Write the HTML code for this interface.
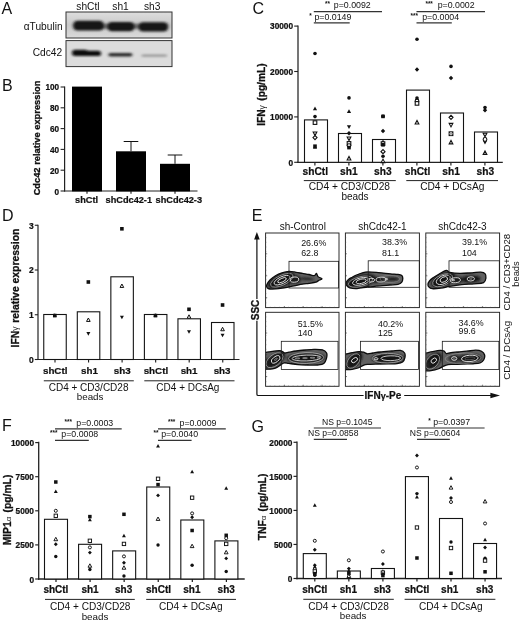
<!DOCTYPE html>
<html lang="en"><head><meta charset="utf-8"><title>Figure</title>
<style>html,body{margin:0;padding:0;background:#fff}svg{display:block}text{font-family:"Liberation Sans", Arial, sans-serif;fill:#111}</style></head><body>
<svg width="520" height="622" viewBox="0 0 520 622">
<defs><filter id="b1" x="-20%" y="-60%" width="140%" height="220%"><feGaussianBlur stdDeviation="1.5 1.25"/></filter><filter id="b2" x="-20%" y="-80%" width="140%" height="260%"><feGaussianBlur stdDeviation="1.4 0.95"/></filter><filter id="bc" x="-10%" y="-20%" width="120%" height="140%"><feGaussianBlur stdDeviation="0.35"/></filter><filter id="bcore" x="-30%" y="-60%" width="160%" height="220%"><feGaussianBlur stdDeviation="0.9"/></filter><filter id="soft" x="-5%" y="-5%" width="110%" height="110%"><feGaussianBlur stdDeviation="0.3"/></filter></defs>
<rect x="0" y="0" width="520" height="622" fill="#fff"/>
<g id="panelA">
<text x="1.5" y="14.2" font-size="16" text-anchor="start">A</text>
<text x="76.3" y="9.6" font-size="10.2" text-anchor="start">shCtl</text>
<text x="112.3" y="9.6" font-size="10.2" text-anchor="start">sh1</text>
<text x="144" y="9.6" font-size="10.2" text-anchor="start">sh3</text>
<text x="62.6" y="30" font-size="10.2" text-anchor="end">&#945;Tubulin</text>
<text x="62.2" y="55.6" font-size="10.2" text-anchor="end">Cdc42</text>
<linearGradient id="gA" x1="0" y1="0" x2="0" y2="1"><stop offset="0" stop-color="#dedede"/><stop offset="0.5" stop-color="#c9c9c9"/><stop offset="1" stop-color="#dadada"/></linearGradient>
<rect x="66" y="12" width="106" height="26" fill="url(#gA)" stroke="#333" stroke-width="1"/>
<rect x="66" y="40.6" width="106" height="26" fill="#dcdcdc" stroke="#333" stroke-width="1"/>
<g filter="url(#b1)">
<rect x="74" y="23.6" width="94" height="5.4" fill="#333" opacity="0.6"/>
<rect x="73" y="20.8" width="31" height="9.8" rx="4.5" fill="#141414"/>
<rect x="107.2" y="22" width="27.4" height="9.2" rx="4.5" fill="#161616"/>
<rect x="138.4" y="22.2" width="29.8" height="9.4" rx="4.5" fill="#161616"/>
</g>
<g filter="url(#b2)">
<rect x="72" y="49.8" width="16" height="6.2" rx="3" fill="#080808"/>
<rect x="74" y="50.8" width="27" height="5.2" rx="2.6" fill="#0a0a0a"/>
<rect x="108.4" y="53" width="24" height="3.6" rx="1.8" fill="#2c2c2c"/>
<rect x="141.5" y="54.6" width="25.5" height="2.2" rx="1.1" fill="#8a8a8a" opacity="0.85"/>
</g>
</g>
<g id="panelB">
<text x="2" y="91.2" font-size="16" text-anchor="start">B</text>
<line x1="64.6" y1="86.4" x2="64.6" y2="191.6" stroke="#222" stroke-width="1.2" stroke-linecap="butt"/>
<line x1="60.599999999999994" y1="191.0" x2="64.6" y2="191.0" stroke="#222" stroke-width="1.08" stroke-linecap="butt"/>
<text x="59.1" y="194.85" font-size="8.2" font-weight="bold" stroke="#111" stroke-width="0.22" text-anchor="end">0</text>
<line x1="60.599999999999994" y1="170.2" x2="64.6" y2="170.2" stroke="#222" stroke-width="1.08" stroke-linecap="butt"/>
<text x="59.1" y="173.5" font-size="8.2" font-weight="bold" stroke="#111" stroke-width="0.22" text-anchor="end">20</text>
<line x1="60.599999999999994" y1="149.4" x2="64.6" y2="149.4" stroke="#222" stroke-width="1.08" stroke-linecap="butt"/>
<text x="59.1" y="152.7" font-size="8.2" font-weight="bold" stroke="#111" stroke-width="0.22" text-anchor="end">40</text>
<line x1="60.599999999999994" y1="128.6" x2="64.6" y2="128.6" stroke="#222" stroke-width="1.08" stroke-linecap="butt"/>
<text x="59.1" y="131.9" font-size="8.2" font-weight="bold" stroke="#111" stroke-width="0.22" text-anchor="end">60</text>
<line x1="60.599999999999994" y1="107.8" x2="64.6" y2="107.8" stroke="#222" stroke-width="1.08" stroke-linecap="butt"/>
<text x="59.1" y="111.1" font-size="8.2" font-weight="bold" stroke="#111" stroke-width="0.22" text-anchor="end">80</text>
<line x1="60.599999999999994" y1="87.0" x2="64.6" y2="87.0" stroke="#222" stroke-width="1.08" stroke-linecap="butt"/>
<text x="59.1" y="90.3" font-size="8.2" font-weight="bold" stroke="#111" stroke-width="0.22" text-anchor="end">100</text>
<line x1="64" y1="191" x2="197.5" y2="191" stroke="#222" stroke-width="1.2" stroke-linecap="butt"/>
<line x1="87" y1="191" x2="87" y2="193.8" stroke="#222" stroke-width="1.14" stroke-linecap="butt"/>
<line x1="131" y1="191" x2="131" y2="193.8" stroke="#222" stroke-width="1.14" stroke-linecap="butt"/>
<line x1="175" y1="191" x2="175" y2="193.8" stroke="#222" stroke-width="1.14" stroke-linecap="butt"/>
<rect x="72" y="86.6" width="30" height="104.80" fill="#000"/>
<rect x="116" y="151.3" width="30" height="40.10" fill="#000"/>
<rect x="160" y="163.8" width="30" height="27.60" fill="#000"/>
<line x1="131" y1="151.3" x2="131" y2="141.5" stroke="#111" stroke-width="1" stroke-linecap="butt"/>
<line x1="123.7" y1="141.5" x2="138.3" y2="141.5" stroke="#111" stroke-width="1" stroke-linecap="butt"/>
<line x1="175" y1="163.8" x2="175" y2="155" stroke="#111" stroke-width="1" stroke-linecap="butt"/>
<line x1="167.7" y1="155" x2="182.3" y2="155" stroke="#111" stroke-width="1" stroke-linecap="butt"/>
<text x="86.6" y="203" font-size="9.2" font-weight="bold" stroke="#111" stroke-width="0.22" text-anchor="middle">shCtl</text>
<text x="128.8" y="203" font-size="9.2" font-weight="bold" stroke="#111" stroke-width="0.22" text-anchor="middle">shCdc42-1</text>
<text x="178.8" y="203" font-size="9.2" font-weight="bold" stroke="#111" stroke-width="0.22" text-anchor="middle">shCdc42-3</text>
<text x="40" y="138" font-size="9.3" font-weight="bold" stroke="#111" stroke-width="0.3" text-anchor="middle" transform="rotate(-90 40 138)">Cdc42 relative expression</text>
</g>
<g id="panelC">
<text x="252.5" y="14" font-size="16" text-anchor="start">C</text>
<line x1="298" y1="25.375" x2="298" y2="162.925" stroke="#222" stroke-width="1.25" stroke-linecap="butt"/>
<line x1="294.2" y1="162.3" x2="298" y2="162.3" stroke="#222" stroke-width="1.125" stroke-linecap="butt"/>
<text x="293.1" y="166.19" font-size="8.3" font-weight="bold" stroke="#111" stroke-width="0.22" text-anchor="end">0</text>
<line x1="294.2" y1="116.9" x2="298" y2="116.9" stroke="#222" stroke-width="1.125" stroke-linecap="butt"/>
<text x="293.1" y="120.24" font-size="8.3" font-weight="bold" stroke="#111" stroke-width="0.22" text-anchor="end">10000</text>
<line x1="294.2" y1="71.50000000000001" x2="298" y2="71.50000000000001" stroke="#222" stroke-width="1.125" stroke-linecap="butt"/>
<text x="293.1" y="74.84" font-size="8.3" font-weight="bold" stroke="#111" stroke-width="0.22" text-anchor="end">20000</text>
<line x1="294.2" y1="26.100000000000023" x2="298" y2="26.100000000000023" stroke="#222" stroke-width="1.125" stroke-linecap="butt"/>
<text x="293.1" y="29.44" font-size="8.3" font-weight="bold" stroke="#111" stroke-width="0.22" text-anchor="end">30000</text>
<line x1="297.3" y1="162.3" x2="502.8" y2="162.3" stroke="#222" stroke-width="1.25" stroke-linecap="butt"/>
<line x1="314.9" y1="162.3" x2="314.9" y2="165.5" stroke="#222" stroke-width="1.1875" stroke-linecap="butt"/>
<line x1="348.9" y1="162.3" x2="348.9" y2="165.5" stroke="#222" stroke-width="1.1875" stroke-linecap="butt"/>
<line x1="382.9" y1="162.3" x2="382.9" y2="165.5" stroke="#222" stroke-width="1.1875" stroke-linecap="butt"/>
<line x1="416.9" y1="162.3" x2="416.9" y2="165.5" stroke="#222" stroke-width="1.1875" stroke-linecap="butt"/>
<line x1="450.9" y1="162.3" x2="450.9" y2="165.5" stroke="#222" stroke-width="1.1875" stroke-linecap="butt"/>
<line x1="484.9" y1="162.3" x2="484.9" y2="165.5" stroke="#222" stroke-width="1.1875" stroke-linecap="butt"/>
<rect x="304.5" y="119.9" width="23" height="42.4" fill="#fff" stroke="#141414" stroke-width="1.1"/>
<rect x="338.5" y="133.5" width="23" height="28.8" fill="#fff" stroke="#141414" stroke-width="1.1"/>
<rect x="372.5" y="139.5" width="23" height="22.8" fill="#fff" stroke="#141414" stroke-width="1.1"/>
<rect x="406.5" y="90.1" width="23" height="72.2" fill="#fff" stroke="#141414" stroke-width="1.1"/>
<rect x="440.5" y="113.0" width="23" height="49.3" fill="#fff" stroke="#141414" stroke-width="1.1"/>
<rect x="474.5" y="132.0" width="23" height="30.3" fill="#fff" stroke="#141414" stroke-width="1.1"/>
<circle cx="315.0" cy="53.5" r="1.80" fill="#111" stroke="none"/>
<path d="M312.90 110.30L317.10 110.30L315.00 106.50Z" fill="#111" stroke="none"/>
<circle cx="315.0" cy="116.6" r="1.80" fill="#111" stroke="none"/>
<rect x="313.20" y="120.80" width="3.60" height="3.60" fill="#fff" stroke="#111" stroke-width="1.1" stroke-linejoin="miter"/>
<path d="M313.16 132.00L316.84 132.00L315.00 135.50Z" fill="#fff" stroke="#111" stroke-width="1.1" stroke-linejoin="miter"/>
<path d="M312.95 137.60L315.00 135.55L317.05 137.60L315.00 139.65Z" fill="#fff" stroke="#111" stroke-width="1.1" stroke-linejoin="miter"/>
<rect x="313.20" y="144.40" width="3.60" height="3.60" fill="#111" stroke="none"/>
<path d="M312.90 148.80L317.10 148.80L315.00 145.00Z" fill="#111" stroke="none"/>
<circle cx="349.0" cy="97.9" r="1.80" fill="#111" stroke="none"/>
<path d="M346.90 113.00L351.10 113.00L349.00 109.20Z" fill="#111" stroke="none"/>
<path d="M346.90 125.30L351.10 125.30L349.00 129.10Z" fill="#111" stroke="none"/>
<path d="M346.80 133.30L349.00 131.10L351.20 133.30L349.00 135.50Z" fill="#111" stroke="none"/>
<path d="M347.16 137.00L350.84 137.00L349.00 140.50Z" fill="#fff" stroke="#111" stroke-width="1.1" stroke-linejoin="miter"/>
<rect x="347.20" y="141.60" width="3.60" height="3.60" fill="#fff" stroke="#111" stroke-width="1.1" stroke-linejoin="miter"/>
<circle cx="349.0" cy="145.6" r="1.85" fill="#fff" stroke="#111" stroke-width="1.1" stroke-linejoin="miter"/>
<rect x="347.20" y="145.80" width="3.60" height="3.60" fill="#111" stroke="none"/>
<path d="M347.16 160.00L350.84 160.00L349.00 156.50Z" fill="#fff" stroke="#111" stroke-width="1.1" stroke-linejoin="miter"/>
<rect x="381.20" y="114.60" width="3.60" height="3.60" fill="#111" stroke="none"/>
<circle cx="383.0" cy="116.2" r="1.80" fill="#111" stroke="none"/>
<path d="M380.80 131.00L383.00 128.80L385.20 131.00L383.00 133.20Z" fill="#111" stroke="none"/>
<path d="M380.90 143.30L385.10 143.30L383.00 139.50Z" fill="#111" stroke="none"/>
<rect x="381.20" y="141.80" width="3.60" height="3.60" fill="#fff" stroke="#111" stroke-width="1.1" stroke-linejoin="miter"/>
<rect x="381.20" y="143.00" width="3.60" height="3.60" fill="#111" stroke="none"/>
<path d="M380.95 151.70L383.00 149.65L385.05 151.70L383.00 153.75Z" fill="#fff" stroke="#111" stroke-width="1.1" stroke-linejoin="miter"/>
<circle cx="383.0" cy="156.2" r="1.80" fill="#111" stroke="none"/>
<path d="M381.16 162.60L384.84 162.60L383.00 159.09Z" fill="#fff" stroke="#111" stroke-width="1.1" stroke-linejoin="miter"/>
<circle cx="417.0" cy="39.3" r="1.80" fill="#111" stroke="none"/>
<path d="M414.80 69.50L417.00 67.30L419.20 69.50L417.00 71.70Z" fill="#111" stroke="none"/>
<circle cx="417.0" cy="98.0" r="1.80" fill="#111" stroke="none"/>
<path d="M414.90 101.50L419.10 101.50L417.00 97.70Z" fill="#111" stroke="none"/>
<circle cx="417.0" cy="101.0" r="1.85" fill="#fff" stroke="#111" stroke-width="1.1" stroke-linejoin="miter"/>
<rect x="415.20" y="101.60" width="3.60" height="3.60" fill="#fff" stroke="#111" stroke-width="1.1" stroke-linejoin="miter"/>
<path d="M415.16 124.00L418.84 124.00L417.00 120.50Z" fill="#fff" stroke="#111" stroke-width="1.1" stroke-linejoin="miter"/>
<circle cx="451.0" cy="66.4" r="1.80" fill="#111" stroke="none"/>
<path d="M448.80 78.00L451.00 75.80L453.20 78.00L451.00 80.20Z" fill="#111" stroke="none"/>
<path d="M448.95 117.30L451.00 115.25L453.05 117.30L451.00 119.35Z" fill="#fff" stroke="#111" stroke-width="1.1" stroke-linejoin="miter"/>
<path d="M449.16 123.40L452.84 123.40L451.00 126.91Z" fill="#fff" stroke="#111" stroke-width="1.1" stroke-linejoin="miter"/>
<rect x="448.60" y="131.30" width="4.80" height="4.80" fill="#111"/>
<circle cx="451.0" cy="133.7" r="1.30" fill="#999" stroke="#eee" stroke-width="0.6"/>
<path d="M449.16 143.90L452.84 143.90L451.00 140.40Z" fill="#fff" stroke="#111" stroke-width="1.1" stroke-linejoin="miter"/>
<circle cx="485.0" cy="107.6" r="1.80" fill="#111" stroke="none"/>
<path d="M482.80 110.20L485.00 108.00L487.20 110.20L485.00 112.40Z" fill="#111" stroke="none"/>
<path d="M483.16 133.20L486.84 133.20L485.00 136.70Z" fill="#fff" stroke="#111" stroke-width="1.1" stroke-linejoin="miter"/>
<path d="M482.90 140.70L487.10 140.70L485.00 144.50Z" fill="#111" stroke="none"/>
<circle cx="485.0" cy="139.4" r="1.85" fill="#fff" stroke="#111" stroke-width="1.1" stroke-linejoin="miter"/>
<path d="M483.16 154.40L486.84 154.40L485.00 150.90Z" fill="#fff" stroke="#111" stroke-width="1.1" stroke-linejoin="miter"/>
<text x="315.3" y="174.8" font-size="10.2" font-weight="bold" stroke="#111" stroke-width="0.22" text-anchor="middle">shCtl</text>
<text x="348.8" y="174.8" font-size="10.2" font-weight="bold" stroke="#111" stroke-width="0.22" text-anchor="middle">sh1</text>
<text x="382.9" y="174.8" font-size="10.2" font-weight="bold" stroke="#111" stroke-width="0.22" text-anchor="middle">sh3</text>
<text x="417.5" y="174.8" font-size="10.2" font-weight="bold" stroke="#111" stroke-width="0.22" text-anchor="middle">shCtl</text>
<text x="451.1" y="174.8" font-size="10.2" font-weight="bold" stroke="#111" stroke-width="0.22" text-anchor="middle">sh1</text>
<text x="485.4" y="174.8" font-size="10.2" font-weight="bold" stroke="#111" stroke-width="0.22" text-anchor="middle">sh3</text>
<line x1="303.8" y1="180.6" x2="395.8" y2="180.6" stroke="#222" stroke-width="1" stroke-linecap="butt"/>
<line x1="406.3" y1="180.6" x2="498" y2="180.6" stroke="#222" stroke-width="1" stroke-linecap="butt"/>
<text x="349.4" y="190.4" font-size="10.2" text-anchor="middle">CD4 + CD3/CD28</text>
<text x="355" y="199.7" font-size="10" text-anchor="middle">beads</text>
<text x="452.3" y="190.4" font-size="10.2" text-anchor="middle">CD4 + DCsAg</text>
<line x1="313.8" y1="11.7" x2="382" y2="11.7" stroke="#333" stroke-width="1.2" stroke-linecap="butt"/>
<line x1="313.8" y1="22.9" x2="349.7" y2="22.9" stroke="#333" stroke-width="1.2" stroke-linecap="butt"/>
<line x1="416.5" y1="11.7" x2="485" y2="11.7" stroke="#333" stroke-width="1.2" stroke-linecap="butt"/>
<line x1="416.5" y1="22.9" x2="451.8" y2="22.9" stroke="#333" stroke-width="1.2" stroke-linecap="butt"/>
<text x="325" y="6.1" font-size="6.4" font-weight="bold" stroke="#111" stroke-width="0" text-anchor="start">**</text>
<text x="333.8" y="8.1" font-size="8.8" text-anchor="start">p=0.0092</text>
<text x="309.3" y="17.6" font-size="6.4" font-weight="bold" stroke="#111" stroke-width="0" text-anchor="start">*</text>
<text x="314.4" y="19.6" font-size="8.8" text-anchor="start">p=0.0149</text>
<text x="425.4" y="6.1" font-size="6.4" font-weight="bold" stroke="#111" stroke-width="0" text-anchor="start">***</text>
<text x="437.7" y="8.1" font-size="8.8" text-anchor="start">p=0.0002</text>
<text x="410.6" y="17.6" font-size="6.4" font-weight="bold" stroke="#111" stroke-width="0" text-anchor="start">***</text>
<text x="422.2" y="19.6" font-size="8.8" text-anchor="start">p=0.0004</text>
<text x="265.5" y="94.6" font-size="10.2" font-weight="bold" stroke="#111" stroke-width="0.3" text-anchor="middle" transform="rotate(-90 265.5 94.6)">IFN<tspan font-size="8.5" dy="-0.6" font-weight="normal" stroke="none">&#947;</tspan><tspan dy="0.6" dx="1.6"> (pg/mL)</tspan></text>
</g>
<g id="panelD">
<text x="2" y="221.3" font-size="16" text-anchor="start">D</text>
<line x1="38" y1="224.70000000000002" x2="38" y2="360.1" stroke="#222" stroke-width="1.2" stroke-linecap="butt"/>
<line x1="34.8" y1="359.5" x2="38" y2="359.5" stroke="#222" stroke-width="1.08" stroke-linecap="butt"/>
<text x="33.8" y="363.46" font-size="8.5" font-weight="bold" stroke="#111" stroke-width="0.22" text-anchor="end">0</text>
<line x1="34.8" y1="314.75" x2="38" y2="314.75" stroke="#222" stroke-width="1.08" stroke-linecap="butt"/>
<text x="33.8" y="318.16" font-size="8.5" font-weight="bold" stroke="#111" stroke-width="0.22" text-anchor="end">1</text>
<line x1="34.8" y1="270.0" x2="38" y2="270.0" stroke="#222" stroke-width="1.08" stroke-linecap="butt"/>
<text x="33.8" y="273.41" font-size="8.5" font-weight="bold" stroke="#111" stroke-width="0.22" text-anchor="end">2</text>
<line x1="34.8" y1="225.25" x2="38" y2="225.25" stroke="#222" stroke-width="1.08" stroke-linecap="butt"/>
<text x="33.8" y="228.66" font-size="8.5" font-weight="bold" stroke="#111" stroke-width="0.22" text-anchor="end">3</text>
<line x1="37.4" y1="359.5" x2="239.5" y2="359.5" stroke="#222" stroke-width="1.2" stroke-linecap="butt"/>
<line x1="55.0" y1="359.5" x2="55.0" y2="362.5" stroke="#222" stroke-width="1.14" stroke-linecap="butt"/>
<line x1="88.55" y1="359.5" x2="88.55" y2="362.5" stroke="#222" stroke-width="1.14" stroke-linecap="butt"/>
<line x1="122.1" y1="359.5" x2="122.1" y2="362.5" stroke="#222" stroke-width="1.14" stroke-linecap="butt"/>
<line x1="155.64999999999998" y1="359.5" x2="155.64999999999998" y2="362.5" stroke="#222" stroke-width="1.14" stroke-linecap="butt"/>
<line x1="189.2" y1="359.5" x2="189.2" y2="362.5" stroke="#222" stroke-width="1.14" stroke-linecap="butt"/>
<line x1="222.75" y1="359.5" x2="222.75" y2="362.5" stroke="#222" stroke-width="1.14" stroke-linecap="butt"/>
<rect x="43.75" y="314.5" width="22.5" height="45.0" fill="#fff" stroke="#141414" stroke-width="1.1"/>
<rect x="77.3" y="311.8" width="22.5" height="47.7" fill="#fff" stroke="#141414" stroke-width="1.1"/>
<rect x="110.85" y="276.8" width="22.5" height="82.7" fill="#fff" stroke="#141414" stroke-width="1.1"/>
<rect x="144.4" y="314.5" width="22.5" height="45.0" fill="#fff" stroke="#141414" stroke-width="1.1"/>
<rect x="177.95" y="318.8" width="22.5" height="40.7" fill="#fff" stroke="#141414" stroke-width="1.1"/>
<rect x="211.5" y="322.5" width="22.5" height="37.0" fill="#fff" stroke="#141414" stroke-width="1.1"/>
<rect x="53.00" y="313.80" width="3.60" height="3.60" fill="#111" stroke="none"/>
<path d="M52.80 316.85L56.80 316.85L54.80 313.15Z" fill="#111" stroke="none"/>
<rect x="86.55" y="280.20" width="3.60" height="3.60" fill="#111" stroke="none"/>
<path d="M86.52 321.45L90.18 321.45L88.35 318.00Z" fill="#fff" stroke="#111" stroke-width="1.0" stroke-linejoin="miter"/>
<path d="M86.35 331.95L90.35 331.95L88.35 335.65Z" fill="#111" stroke="none"/>
<rect x="120.10" y="227.00" width="3.60" height="3.60" fill="#111" stroke="none"/>
<path d="M120.07 287.45L123.73 287.45L121.90 284.00Z" fill="#fff" stroke="#111" stroke-width="1.0" stroke-linejoin="miter"/>
<path d="M119.90 315.65L123.90 315.65L121.90 319.35Z" fill="#111" stroke="none"/>
<rect x="153.65" y="313.80" width="3.60" height="3.60" fill="#111" stroke="none"/>
<path d="M153.45 316.85L157.45 316.85L155.45 313.15Z" fill="#111" stroke="none"/>
<rect x="187.20" y="307.50" width="3.60" height="3.60" fill="#111" stroke="none"/>
<path d="M187.17 318.25L190.83 318.25L189.00 314.80Z" fill="#fff" stroke="#111" stroke-width="1.0" stroke-linejoin="miter"/>
<path d="M187.00 330.15L191.00 330.15L189.00 333.85Z" fill="#111" stroke="none"/>
<rect x="220.75" y="303.20" width="3.60" height="3.60" fill="#111" stroke="none"/>
<path d="M220.72 330.75L224.38 330.75L222.55 327.30Z" fill="#fff" stroke="#111" stroke-width="1.0" stroke-linejoin="miter"/>
<path d="M220.55 333.65L224.55 333.65L222.55 337.35Z" fill="#111" stroke="none"/>
<text x="55.2" y="373.8" font-size="9.8" font-weight="bold" stroke="#111" stroke-width="0.22" text-anchor="middle">shCtl</text>
<text x="89.4" y="373.8" font-size="9.8" font-weight="bold" stroke="#111" stroke-width="0.22" text-anchor="middle">sh1</text>
<text x="122.2" y="373.8" font-size="9.8" font-weight="bold" stroke="#111" stroke-width="0.22" text-anchor="middle">sh3</text>
<text x="155.9" y="373.8" font-size="9.8" font-weight="bold" stroke="#111" stroke-width="0.22" text-anchor="middle">shCtl</text>
<text x="189.1" y="373.8" font-size="9.8" font-weight="bold" stroke="#111" stroke-width="0.22" text-anchor="middle">sh1</text>
<text x="222.1" y="373.8" font-size="9.8" font-weight="bold" stroke="#111" stroke-width="0.22" text-anchor="middle">sh3</text>
<line x1="43.8" y1="380.8" x2="133.8" y2="380.8" stroke="#222" stroke-width="1" stroke-linecap="butt"/>
<line x1="144.3" y1="380.8" x2="234.5" y2="380.8" stroke="#222" stroke-width="1" stroke-linecap="butt"/>
<text x="88.6" y="391.0" font-size="10" text-anchor="middle">CD4 + CD3/CD28</text>
<text x="90.1" y="400.3" font-size="9.8" text-anchor="middle">beads</text>
<text x="187.9" y="391.0" font-size="10" text-anchor="middle">CD4 + DCsAg</text>
<text x="18.8" y="288.0" font-size="10.4" font-weight="bold" stroke="#111" stroke-width="0.3" text-anchor="middle" transform="rotate(-90 18.8 288.0)">IFN<tspan font-size="8.5" dy="-0.6" font-weight="normal" stroke="none">&#947;</tspan><tspan dy="0.6" dx="0.8"> relative expression</tspan></text>
</g>
<g id="panelE">
<text x="251.8" y="221.3" font-size="16" text-anchor="start">E</text>
<text x="302.8" y="229.6" font-size="10" text-anchor="middle">sh-Control</text>
<text x="382.5" y="229.6" font-size="10" text-anchor="middle">shCdc42-1</text>
<text x="462.5" y="229.6" font-size="10" text-anchor="middle">shCdc42-3</text>
<clipPath id="cp1"><rect x="265.6" y="233.0" width="73.40" height="74.60"/></clipPath>
<g clip-path="url(#cp1)">
<g filter="url(#bc)">
<path d="M266.70 285.00C267.17 283.70 268.53 281.55 270.00 280.00C271.47 278.45 273.50 276.90 275.50 275.70C277.50 274.50 279.75 273.52 282.00 272.80C284.25 272.08 286.67 271.48 289.00 271.40C291.33 271.32 293.77 271.97 296.00 272.30C298.23 272.63 300.23 273.03 302.40 273.40C304.57 273.77 307.02 274.13 309.00 274.50C310.98 274.87 313.07 275.78 314.30 275.60C315.53 275.42 315.78 273.23 316.40 273.40C317.02 273.57 317.07 275.70 318.00 276.60C318.93 277.50 321.92 278.13 322.00 278.80C322.08 279.47 319.53 280.03 318.50 280.60C317.47 281.17 317.38 281.75 315.80 282.20C314.22 282.65 311.23 282.97 309.00 283.30C306.77 283.63 304.65 283.82 302.40 284.20C300.15 284.58 297.73 285.15 295.50 285.60C293.27 286.05 291.25 286.47 289.00 286.90C286.75 287.33 284.25 287.87 282.00 288.20C279.75 288.53 277.50 288.77 275.50 288.90C273.50 289.03 271.38 289.18 270.00 289.00C268.62 288.82 267.75 288.47 267.20 287.80C266.65 287.13 266.23 286.30 266.70 285.00Z" fill="#606060" stroke="#0a0a0a" stroke-width="1.3" stroke-linejoin="round"/>
<g clip-path="url(#cp1b)">
<clipPath id="cp1b"><path d="M266.70 285.00C267.17 283.70 268.53 281.55 270.00 280.00C271.47 278.45 273.50 276.90 275.50 275.70C277.50 274.50 279.75 273.52 282.00 272.80C284.25 272.08 286.67 271.48 289.00 271.40C291.33 271.32 293.77 271.97 296.00 272.30C298.23 272.63 300.23 273.03 302.40 273.40C304.57 273.77 307.02 274.13 309.00 274.50C310.98 274.87 313.07 275.78 314.30 275.60C315.53 275.42 315.78 273.23 316.40 273.40C317.02 273.57 317.07 275.70 318.00 276.60C318.93 277.50 321.92 278.13 322.00 278.80C322.08 279.47 319.53 280.03 318.50 280.60C317.47 281.17 317.38 281.75 315.80 282.20C314.22 282.65 311.23 282.97 309.00 283.30C306.77 283.63 304.65 283.82 302.40 284.20C300.15 284.58 297.73 285.15 295.50 285.60C293.27 286.05 291.25 286.47 289.00 286.90C286.75 287.33 284.25 287.87 282.00 288.20C279.75 288.53 277.50 288.77 275.50 288.90C273.50 289.03 271.38 289.18 270.00 289.00C268.62 288.82 267.75 288.47 267.20 287.80C266.65 287.13 266.23 286.30 266.70 285.00Z"/></clipPath>
<g filter="url(#bcore)">
<ellipse cx="281.5" cy="280.4" rx="14.5" ry="6.6" transform="rotate(-24 281.5 280.4)" fill="#141414" stroke="none" stroke-width="0.7"/>
<ellipse cx="294.5" cy="279.6" rx="6.5" ry="4.2" transform="rotate(-5 294.5 279.6)" fill="#1a1a1a" stroke="none" stroke-width="0.7"/>
<ellipse cx="307" cy="278.8" rx="7" ry="1.4" transform="rotate(4 307 278.8)" fill="#262626" stroke="none" stroke-width="0.7"/>
</g>
<ellipse cx="281.8" cy="280.3" rx="12.2" ry="5.0" transform="rotate(-25 281.8 280.3)" fill="none" stroke="#b8b8b8" stroke-width="0.65"/>
<ellipse cx="282" cy="280.2" rx="8.6" ry="3.4" transform="rotate(-25 282 280.2)" fill="none" stroke="#f2f2f2" stroke-width="0.82"/>
<ellipse cx="282" cy="280.2" rx="4.7" ry="1.8" transform="rotate(-25 282 280.2)" fill="none" stroke="#f2f2f2" stroke-width="0.82"/>
<ellipse cx="294.4" cy="279.6" rx="4.3" ry="2.6" transform="rotate(-5 294.4 279.6)" fill="none" stroke="#eee" stroke-width="0.88"/>
</g>
</g></g>
<rect x="265.6" y="233.0" width="73.4" height="74.6" fill="none" stroke="#222" stroke-width="0.95"/>
<line x1="284.4" y1="306.0" x2="284.4" y2="307.6" stroke="#333" stroke-width="0.6" stroke-linecap="butt"/>
<line x1="265.6" y1="253.8" x2="267.20000000000005" y2="253.8" stroke="#333" stroke-width="0.6" stroke-linecap="butt"/>
<line x1="303.2" y1="306.0" x2="303.2" y2="307.6" stroke="#333" stroke-width="0.6" stroke-linecap="butt"/>
<line x1="265.6" y1="275.8" x2="267.20000000000005" y2="275.8" stroke="#333" stroke-width="0.6" stroke-linecap="butt"/>
<line x1="322.1" y1="306.0" x2="322.1" y2="307.6" stroke="#333" stroke-width="0.6" stroke-linecap="butt"/>
<line x1="265.6" y1="297.7" x2="267.20000000000005" y2="297.7" stroke="#333" stroke-width="0.6" stroke-linecap="butt"/>
<path d="M270.2 306.7V307.6M265.6 237.7h0.9M274.8 306.7V307.6M265.6 242.3h0.9M279.4 306.7V307.6M265.6 247.0h0.9M284.0 306.7V307.6M265.6 251.7h0.9M288.5 306.7V307.6M265.6 256.3h0.9M293.1 306.7V307.6M265.6 261.0h0.9M297.7 306.7V307.6M265.6 265.6h0.9M302.3 306.7V307.6M265.6 270.3h0.9M306.9 306.7V307.6M265.6 275.0h0.9M311.5 306.7V307.6M265.6 279.6h0.9M316.1 306.7V307.6M265.6 284.3h0.9M320.6 306.7V307.6M265.6 289.0h0.9M325.2 306.7V307.6M265.6 293.6h0.9M329.8 306.7V307.6M265.6 298.3h0.9M334.4 306.7V307.6M265.6 302.9h0.9" stroke="#555" stroke-width="0.4" fill="none"/>
<rect x="289" y="261.3" width="49.6" height="26.7" fill="none" stroke="#1a1a1a" stroke-width="0.8"/>
<text x="301.2" y="246.3" font-size="8.9" text-anchor="start">26.6%</text>
<text x="301.2" y="256.3" font-size="8.9" text-anchor="start">62.8</text>
<clipPath id="cp2"><rect x="345.4" y="233.0" width="74.00" height="74.60"/></clipPath>
<g clip-path="url(#cp2)">
<g filter="url(#bc)">
<path d="M346.20 282.60C346.48 281.60 347.48 280.50 348.50 279.60C349.52 278.70 350.97 277.97 352.30 277.20C353.63 276.43 354.80 275.73 356.50 275.00C358.20 274.27 360.60 273.32 362.50 272.80C364.40 272.28 365.27 271.93 367.90 271.90C370.53 271.87 374.55 272.28 378.30 272.60C382.05 272.92 387.12 273.50 390.40 273.80C393.68 274.10 396.10 274.10 398.00 274.40C399.90 274.70 401.00 274.92 401.80 275.60C402.60 276.28 402.83 277.37 402.80 278.50C402.77 279.63 402.40 281.43 401.60 282.40C400.80 283.37 399.93 283.87 398.00 284.30C396.07 284.73 393.00 284.75 390.00 285.00C387.00 285.25 383.68 285.47 380.00 285.80C376.32 286.13 371.73 286.55 367.90 287.00C364.07 287.45 360.03 288.37 357.00 288.50C353.97 288.63 351.40 288.28 349.70 287.80C348.00 287.32 347.38 286.47 346.80 285.60C346.22 284.73 345.92 283.60 346.20 282.60Z" fill="#606060" stroke="#0a0a0a" stroke-width="1.3" stroke-linejoin="round"/>
<g clip-path="url(#cp2b)">
<clipPath id="cp2b"><path d="M346.20 282.60C346.48 281.60 347.48 280.50 348.50 279.60C349.52 278.70 350.97 277.97 352.30 277.20C353.63 276.43 354.80 275.73 356.50 275.00C358.20 274.27 360.60 273.32 362.50 272.80C364.40 272.28 365.27 271.93 367.90 271.90C370.53 271.87 374.55 272.28 378.30 272.60C382.05 272.92 387.12 273.50 390.40 273.80C393.68 274.10 396.10 274.10 398.00 274.40C399.90 274.70 401.00 274.92 401.80 275.60C402.60 276.28 402.83 277.37 402.80 278.50C402.77 279.63 402.40 281.43 401.60 282.40C400.80 283.37 399.93 283.87 398.00 284.30C396.07 284.73 393.00 284.75 390.00 285.00C387.00 285.25 383.68 285.47 380.00 285.80C376.32 286.13 371.73 286.55 367.90 287.00C364.07 287.45 360.03 288.37 357.00 288.50C353.97 288.63 351.40 288.28 349.70 287.80C348.00 287.32 347.38 286.47 346.80 285.60C346.22 284.73 345.92 283.60 346.20 282.60Z"/></clipPath>
<g filter="url(#bcore)">
<ellipse cx="361" cy="281.2" rx="15" ry="6.4" transform="rotate(-14 361 281.2)" fill="#141414" stroke="none" stroke-width="0.7"/>
<ellipse cx="376" cy="280" rx="9" ry="3.0" transform="rotate(-4 376 280)" fill="#1c1c1c" stroke="none" stroke-width="0.7"/>
<ellipse cx="392.5" cy="279" rx="6.5" ry="1.8" transform="rotate(0 392.5 279)" fill="#1c1c1c" stroke="none" stroke-width="0.7"/>
</g>
<ellipse cx="360.5" cy="281.6" rx="12.5" ry="4.9" transform="rotate(-14 360.5 281.6)" fill="none" stroke="#b8b8b8" stroke-width="0.65"/>
<ellipse cx="361" cy="281.4" rx="8.6" ry="3.5" transform="rotate(-13 361 281.4)" fill="none" stroke="#f2f2f2" stroke-width="0.8"/>
<ellipse cx="361.2" cy="281.3" rx="5.1" ry="2.1" transform="rotate(-12 361.2 281.3)" fill="none" stroke="#f2f2f2" stroke-width="0.82"/>
<ellipse cx="371" cy="280.2" rx="3.7" ry="1.9" transform="rotate(-5 371 280.2)" fill="none" stroke="#f2f2f2" stroke-width="0.8"/>
<ellipse cx="381" cy="279.6" rx="5.0" ry="2.4" transform="rotate(-3 381 279.6)" fill="none" stroke="#e6e6e6" stroke-width="0.88"/>
<ellipse cx="386.5" cy="279.1" rx="1.2" ry="0.6" transform="rotate(0 386.5 279.1)" fill="none" stroke="#ddd" stroke-width="0.88"/>
<ellipse cx="390" cy="279" rx="10" ry="3.6" transform="rotate(0 390 279)" fill="none" stroke="#8a8a8a" stroke-width="0.59"/>
</g>
</g></g>
<rect x="345.4" y="233.0" width="74.0" height="74.6" fill="none" stroke="#222" stroke-width="0.95"/>
<line x1="364.4" y1="306.0" x2="364.4" y2="307.6" stroke="#333" stroke-width="0.6" stroke-linecap="butt"/>
<line x1="345.4" y1="253.8" x2="347.0" y2="253.8" stroke="#333" stroke-width="0.6" stroke-linecap="butt"/>
<line x1="383.3" y1="306.0" x2="383.3" y2="307.6" stroke="#333" stroke-width="0.6" stroke-linecap="butt"/>
<line x1="345.4" y1="275.8" x2="347.0" y2="275.8" stroke="#333" stroke-width="0.6" stroke-linecap="butt"/>
<line x1="402.3" y1="306.0" x2="402.3" y2="307.6" stroke="#333" stroke-width="0.6" stroke-linecap="butt"/>
<line x1="345.4" y1="297.7" x2="347.0" y2="297.7" stroke="#333" stroke-width="0.6" stroke-linecap="butt"/>
<path d="M350.0 306.7V307.6M345.4 237.7h0.9M354.6 306.7V307.6M345.4 242.3h0.9M359.3 306.7V307.6M345.4 247.0h0.9M363.9 306.7V307.6M345.4 251.7h0.9M368.5 306.7V307.6M345.4 256.3h0.9M373.1 306.7V307.6M345.4 261.0h0.9M377.8 306.7V307.6M345.4 265.6h0.9M382.4 306.7V307.6M345.4 270.3h0.9M387.0 306.7V307.6M345.4 275.0h0.9M391.6 306.7V307.6M345.4 279.6h0.9M396.3 306.7V307.6M345.4 284.3h0.9M400.9 306.7V307.6M345.4 289.0h0.9M405.5 306.7V307.6M345.4 293.6h0.9M410.1 306.7V307.6M345.4 298.3h0.9M414.8 306.7V307.6M345.4 302.9h0.9" stroke="#555" stroke-width="0.4" fill="none"/>
<rect x="368.2" y="260.8" width="51.1" height="26.5" fill="none" stroke="#1a1a1a" stroke-width="0.8"/>
<text x="382.0" y="245.4" font-size="8.9" text-anchor="start">38.3%</text>
<text x="382.0" y="255.8" font-size="8.9" text-anchor="start">81.1</text>
<clipPath id="cp3"><rect x="425.8" y="233.0" width="73.80" height="74.60"/></clipPath>
<g clip-path="url(#cp3)">
<g filter="url(#bc)">
<path d="M428.00 283.80C428.12 282.82 428.78 281.90 429.50 281.00C430.22 280.10 430.68 279.57 432.30 278.40C433.92 277.23 436.88 275.33 439.20 274.00C441.52 272.67 444.43 270.67 446.20 270.40C447.97 270.13 447.50 271.90 449.80 272.40C452.10 272.90 456.28 273.33 460.00 273.40C463.72 273.47 468.65 273.00 472.10 272.80C475.55 272.60 478.55 272.07 480.70 272.20C482.85 272.33 484.13 272.63 485.00 273.60C485.87 274.57 486.13 276.50 485.90 278.00C485.67 279.50 485.62 281.63 483.60 282.60C481.58 283.57 477.45 283.45 473.80 283.80C470.15 284.15 465.73 284.27 461.70 284.70C457.67 285.13 453.05 285.83 449.60 286.40C446.15 286.97 443.88 287.72 441.00 288.10C438.12 288.48 434.33 288.90 432.30 288.70C430.27 288.50 429.52 287.72 428.80 286.90C428.08 286.08 427.88 284.78 428.00 283.80Z" fill="#606060" stroke="#0a0a0a" stroke-width="1.3" stroke-linejoin="round"/>
<g clip-path="url(#cp3b)">
<clipPath id="cp3b"><path d="M428.00 283.80C428.12 282.82 428.78 281.90 429.50 281.00C430.22 280.10 430.68 279.57 432.30 278.40C433.92 277.23 436.88 275.33 439.20 274.00C441.52 272.67 444.43 270.67 446.20 270.40C447.97 270.13 447.50 271.90 449.80 272.40C452.10 272.90 456.28 273.33 460.00 273.40C463.72 273.47 468.65 273.00 472.10 272.80C475.55 272.60 478.55 272.07 480.70 272.20C482.85 272.33 484.13 272.63 485.00 273.60C485.87 274.57 486.13 276.50 485.90 278.00C485.67 279.50 485.62 281.63 483.60 282.60C481.58 283.57 477.45 283.45 473.80 283.80C470.15 284.15 465.73 284.27 461.70 284.70C457.67 285.13 453.05 285.83 449.60 286.40C446.15 286.97 443.88 287.72 441.00 288.10C438.12 288.48 434.33 288.90 432.30 288.70C430.27 288.50 429.52 287.72 428.80 286.90C428.08 286.08 427.88 284.78 428.00 283.80Z"/></clipPath>
<g filter="url(#bcore)">
<ellipse cx="443.2" cy="279.8" rx="13" ry="6.6" transform="rotate(-24 443.2 279.8)" fill="#141414" stroke="none" stroke-width="0.7"/>
<ellipse cx="456" cy="280" rx="7" ry="3.4" transform="rotate(-3 456 280)" fill="#1a1a1a" stroke="none" stroke-width="0.7"/>
<ellipse cx="471" cy="279" rx="9.5" ry="3.6" transform="rotate(-2 471 279)" fill="#141414" stroke="none" stroke-width="0.7"/>
</g>
<ellipse cx="442.6" cy="280.2" rx="10.6" ry="5.4" transform="rotate(-24 442.6 280.2)" fill="none" stroke="#b8b8b8" stroke-width="0.65"/>
<ellipse cx="443.2" cy="279.8" rx="7.4" ry="4.0" transform="rotate(-25 443.2 279.8)" fill="none" stroke="#f2f2f2" stroke-width="0.8"/>
<ellipse cx="443.8" cy="279.5" rx="4.0" ry="2.4" transform="rotate(-26 443.8 279.5)" fill="none" stroke="#f2f2f2" stroke-width="0.85"/>
<ellipse cx="455.4" cy="280.2" rx="5.0" ry="2.5" transform="rotate(-4 455.4 280.2)" fill="none" stroke="#f2f2f2" stroke-width="0.8"/>
<ellipse cx="453.2" cy="280.1" rx="1.6" ry="0.6" transform="rotate(0 453.2 280.1)" fill="none" stroke="#f2f2f2" stroke-width="0.8"/>
<ellipse cx="470.8" cy="278.9" rx="3.7" ry="2.1" transform="rotate(-3 470.8 278.9)" fill="none" stroke="#f2f2f2" stroke-width="0.82"/>
<ellipse cx="470.8" cy="278.9" rx="1.4" ry="0.6" transform="rotate(-3 470.8 278.9)" fill="none" stroke="#999" stroke-width="0.59"/>
</g>
</g></g>
<rect x="425.8" y="233.0" width="73.8" height="74.6" fill="none" stroke="#222" stroke-width="0.95"/>
<line x1="444.7" y1="306.0" x2="444.7" y2="307.6" stroke="#333" stroke-width="0.6" stroke-linecap="butt"/>
<line x1="425.8" y1="253.8" x2="427.40000000000003" y2="253.8" stroke="#333" stroke-width="0.6" stroke-linecap="butt"/>
<line x1="463.6" y1="306.0" x2="463.6" y2="307.6" stroke="#333" stroke-width="0.6" stroke-linecap="butt"/>
<line x1="425.8" y1="275.8" x2="427.40000000000003" y2="275.8" stroke="#333" stroke-width="0.6" stroke-linecap="butt"/>
<line x1="482.6" y1="306.0" x2="482.6" y2="307.6" stroke="#333" stroke-width="0.6" stroke-linecap="butt"/>
<line x1="425.8" y1="297.7" x2="427.40000000000003" y2="297.7" stroke="#333" stroke-width="0.6" stroke-linecap="butt"/>
<path d="M430.4 306.7V307.6M425.8 237.7h0.9M435.0 306.7V307.6M425.8 242.3h0.9M439.6 306.7V307.6M425.8 247.0h0.9M444.2 306.7V307.6M425.8 251.7h0.9M448.9 306.7V307.6M425.8 256.3h0.9M453.5 306.7V307.6M425.8 261.0h0.9M458.1 306.7V307.6M425.8 265.6h0.9M462.7 306.7V307.6M425.8 270.3h0.9M467.3 306.7V307.6M425.8 275.0h0.9M471.9 306.7V307.6M425.8 279.6h0.9M476.5 306.7V307.6M425.8 284.3h0.9M481.2 306.7V307.6M425.8 289.0h0.9M485.8 306.7V307.6M425.8 293.6h0.9M490.4 306.7V307.6M425.8 298.3h0.9M495.0 306.7V307.6M425.8 302.9h0.9" stroke="#555" stroke-width="0.4" fill="none"/>
<rect x="449" y="260.8" width="50.3" height="26.5" fill="none" stroke="#1a1a1a" stroke-width="0.8"/>
<text x="462.0" y="245.4" font-size="8.9" text-anchor="start">39.1%</text>
<text x="462.0" y="255.8" font-size="8.9" text-anchor="start">104</text>
<clipPath id="cp4"><rect x="265.6" y="312.3" width="73.40" height="74.00"/></clipPath>
<g clip-path="url(#cp4)">
<g filter="url(#bc)">
<path d="M262.00 352.60C262.67 349.83 264.28 352.60 266.00 352.40C267.72 352.20 270.10 351.70 272.30 351.40C274.50 351.10 277.50 350.57 279.20 350.60C280.90 350.63 281.62 351.20 282.50 351.60C283.38 352.00 283.42 352.90 284.50 353.00C285.58 353.10 287.08 352.53 289.00 352.20C290.92 351.87 293.33 351.37 296.00 351.00C298.67 350.63 302.00 350.28 305.00 350.00C308.00 349.72 311.08 349.33 314.00 349.30C316.92 349.27 320.40 349.18 322.50 349.80C324.60 350.42 325.95 351.53 326.60 353.00C327.25 354.47 326.87 356.83 326.40 358.60C325.93 360.37 325.20 362.53 323.80 363.60C322.40 364.67 320.63 364.77 318.00 365.00C315.37 365.23 311.33 365.07 308.00 365.00C304.67 364.93 301.17 364.87 298.00 364.60C294.83 364.33 291.27 363.70 289.00 363.40C286.73 363.10 285.73 362.60 284.40 362.80C283.07 363.00 282.23 363.83 281.00 364.60C279.77 365.37 278.45 366.68 277.00 367.40C275.55 368.12 274.13 368.60 272.30 368.90C270.47 369.20 267.72 369.18 266.00 369.20C264.28 369.22 262.67 371.77 262.00 369.00C261.33 366.23 261.33 355.37 262.00 352.60Z" fill="#606060" stroke="#0a0a0a" stroke-width="1.3" stroke-linejoin="round"/>
<g clip-path="url(#cp4b)">
<clipPath id="cp4b"><path d="M262.00 352.60C262.67 349.83 264.28 352.60 266.00 352.40C267.72 352.20 270.10 351.70 272.30 351.40C274.50 351.10 277.50 350.57 279.20 350.60C280.90 350.63 281.62 351.20 282.50 351.60C283.38 352.00 283.42 352.90 284.50 353.00C285.58 353.10 287.08 352.53 289.00 352.20C290.92 351.87 293.33 351.37 296.00 351.00C298.67 350.63 302.00 350.28 305.00 350.00C308.00 349.72 311.08 349.33 314.00 349.30C316.92 349.27 320.40 349.18 322.50 349.80C324.60 350.42 325.95 351.53 326.60 353.00C327.25 354.47 326.87 356.83 326.40 358.60C325.93 360.37 325.20 362.53 323.80 363.60C322.40 364.67 320.63 364.77 318.00 365.00C315.37 365.23 311.33 365.07 308.00 365.00C304.67 364.93 301.17 364.87 298.00 364.60C294.83 364.33 291.27 363.70 289.00 363.40C286.73 363.10 285.73 362.60 284.40 362.80C283.07 363.00 282.23 363.83 281.00 364.60C279.77 365.37 278.45 366.68 277.00 367.40C275.55 368.12 274.13 368.60 272.30 368.90C270.47 369.20 267.72 369.18 266.00 369.20C264.28 369.22 262.67 371.77 262.00 369.00C261.33 366.23 261.33 355.37 262.00 352.60Z"/></clipPath>
<g filter="url(#bcore)">
<ellipse cx="275.7" cy="359.6" rx="11" ry="5.4" transform="rotate(-35 275.7 359.6)" fill="#141414" stroke="none" stroke-width="0.7"/>
<ellipse cx="306" cy="358" rx="19" ry="4.8" transform="rotate(-2 306 358)" fill="#191919" stroke="none" stroke-width="0.7"/>
<ellipse cx="266" cy="364" rx="3" ry="6" transform="rotate(10 266 364)" fill="#222" stroke="none" stroke-width="0.7"/>
</g>
<ellipse cx="274.5" cy="360.2" rx="9.8" ry="5.6" transform="rotate(-38 274.5 360.2)" fill="none" stroke="#b4b4b4" stroke-width="0.65"/>
<ellipse cx="275.7" cy="359.4" rx="5.0" ry="2.7" transform="rotate(-35 275.7 359.4)" fill="none" stroke="#f4f4f4" stroke-width="0.85"/>
<ellipse cx="275.9" cy="359.3" rx="1.6" ry="0.7" transform="rotate(-35 275.9 359.3)" fill="none" stroke="#bbb" stroke-width="0.59"/>
<ellipse cx="306.1" cy="358.0" rx="17.6" ry="5.4" transform="rotate(-2 306.1 358.0)" fill="none" stroke="#c8c8c8" stroke-width="0.65"/>
<ellipse cx="306.5" cy="358.0" rx="14.6" ry="2.9" transform="rotate(-2 306.5 358.0)" fill="none" stroke="#f0f0f0" stroke-width="0.8"/>
<ellipse cx="297.5" cy="358.4" rx="2.4" ry="0.5" transform="rotate(0 297.5 358.4)" fill="none" stroke="#ccc" stroke-width="0.59"/>
<ellipse cx="305" cy="358.1" rx="2.4" ry="0.5" transform="rotate(0 305 358.1)" fill="none" stroke="#ccc" stroke-width="0.59"/>
<ellipse cx="312.5" cy="357.8" rx="2.4" ry="0.5" transform="rotate(0 312.5 357.8)" fill="none" stroke="#ccc" stroke-width="0.59"/>
<ellipse cx="318.5" cy="357.6" rx="1.6" ry="0.5" transform="rotate(0 318.5 357.6)" fill="none" stroke="#ccc" stroke-width="0.59"/>
</g>
</g></g>
<rect x="265.6" y="312.3" width="73.4" height="74.0" fill="none" stroke="#222" stroke-width="0.95"/>
<line x1="284.4" y1="384.7" x2="284.4" y2="386.3" stroke="#333" stroke-width="0.6" stroke-linecap="butt"/>
<line x1="265.6" y1="333.0" x2="267.20000000000005" y2="333.0" stroke="#333" stroke-width="0.6" stroke-linecap="butt"/>
<line x1="303.2" y1="384.7" x2="303.2" y2="386.3" stroke="#333" stroke-width="0.6" stroke-linecap="butt"/>
<line x1="265.6" y1="354.7" x2="267.20000000000005" y2="354.7" stroke="#333" stroke-width="0.6" stroke-linecap="butt"/>
<line x1="322.1" y1="384.7" x2="322.1" y2="386.3" stroke="#333" stroke-width="0.6" stroke-linecap="butt"/>
<line x1="265.6" y1="376.5" x2="267.20000000000005" y2="376.5" stroke="#333" stroke-width="0.6" stroke-linecap="butt"/>
<path d="M270.2 385.4V386.3M265.6 316.9h0.9M274.8 385.4V386.3M265.6 321.6h0.9M279.4 385.4V386.3M265.6 326.2h0.9M284.0 385.4V386.3M265.6 330.8h0.9M288.5 385.4V386.3M265.6 335.4h0.9M293.1 385.4V386.3M265.6 340.1h0.9M297.7 385.4V386.3M265.6 344.7h0.9M302.3 385.4V386.3M265.6 349.3h0.9M306.9 385.4V386.3M265.6 353.9h0.9M311.5 385.4V386.3M265.6 358.6h0.9M316.1 385.4V386.3M265.6 363.2h0.9M320.6 385.4V386.3M265.6 367.8h0.9M325.2 385.4V386.3M265.6 372.4h0.9M329.8 385.4V386.3M265.6 377.1h0.9M334.4 385.4V386.3M265.6 381.7h0.9" stroke="#555" stroke-width="0.4" fill="none"/>
<rect x="281.3" y="341.3" width="56.7" height="28.1" fill="none" stroke="#1a1a1a" stroke-width="0.8"/>
<text x="297.7" y="326.6" font-size="8.9" text-anchor="start">51.5%</text>
<text x="297.7" y="336.1" font-size="8.9" text-anchor="start">140</text>
<clipPath id="cp5"><rect x="345.4" y="312.3" width="74.00" height="74.00"/></clipPath>
<g clip-path="url(#cp5)">
<g filter="url(#bc)">
<path d="M342.00 354.30C342.67 351.73 344.28 354.28 346.00 354.00C347.72 353.72 350.10 353.00 352.30 352.60C354.50 352.20 357.33 351.67 359.20 351.60C361.07 351.53 362.13 351.83 363.50 352.20C364.87 352.57 365.82 353.67 367.40 353.80C368.98 353.93 370.90 353.30 373.00 353.00C375.10 352.70 376.82 352.33 380.00 352.00C383.18 351.67 388.68 351.27 392.10 351.00C395.52 350.73 398.42 350.07 400.50 350.40C402.58 350.73 403.87 351.80 404.60 353.00C405.33 354.20 405.23 356.10 404.90 357.60C404.57 359.10 403.92 361.00 402.60 362.00C401.28 363.00 399.43 363.30 397.00 363.60C394.57 363.90 391.12 363.73 388.00 363.80C384.88 363.87 381.73 363.90 378.30 364.00C374.87 364.10 370.00 364.13 367.40 364.40C364.80 364.67 364.27 365.00 362.70 365.60C361.13 366.20 359.78 367.37 358.00 368.00C356.22 368.63 354.00 369.13 352.00 369.40C350.00 369.67 347.67 369.60 346.00 369.60C344.33 369.60 342.67 371.95 342.00 369.40C341.33 366.85 341.33 356.87 342.00 354.30Z" fill="#606060" stroke="#0a0a0a" stroke-width="1.3" stroke-linejoin="round"/>
<g clip-path="url(#cp5b)">
<clipPath id="cp5b"><path d="M342.00 354.30C342.67 351.73 344.28 354.28 346.00 354.00C347.72 353.72 350.10 353.00 352.30 352.60C354.50 352.20 357.33 351.67 359.20 351.60C361.07 351.53 362.13 351.83 363.50 352.20C364.87 352.57 365.82 353.67 367.40 353.80C368.98 353.93 370.90 353.30 373.00 353.00C375.10 352.70 376.82 352.33 380.00 352.00C383.18 351.67 388.68 351.27 392.10 351.00C395.52 350.73 398.42 350.07 400.50 350.40C402.58 350.73 403.87 351.80 404.60 353.00C405.33 354.20 405.23 356.10 404.90 357.60C404.57 359.10 403.92 361.00 402.60 362.00C401.28 363.00 399.43 363.30 397.00 363.60C394.57 363.90 391.12 363.73 388.00 363.80C384.88 363.87 381.73 363.90 378.30 364.00C374.87 364.10 370.00 364.13 367.40 364.40C364.80 364.67 364.27 365.00 362.70 365.60C361.13 366.20 359.78 367.37 358.00 368.00C356.22 368.63 354.00 369.13 352.00 369.40C350.00 369.67 347.67 369.60 346.00 369.60C344.33 369.60 342.67 371.95 342.00 369.40C341.33 366.85 341.33 356.87 342.00 354.30Z"/></clipPath>
<g filter="url(#bcore)">
<ellipse cx="354.3" cy="360.4" rx="10" ry="5.6" transform="rotate(-45 354.3 360.4)" fill="#141414" stroke="none" stroke-width="0.7"/>
<ellipse cx="388" cy="358.2" rx="16.5" ry="4.6" transform="rotate(-1 388 358.2)" fill="#181818" stroke="none" stroke-width="0.7"/>
<ellipse cx="347" cy="365" rx="2.5" ry="5" transform="rotate(15 347 365)" fill="#222" stroke="none" stroke-width="0.7"/>
</g>
<ellipse cx="353.5" cy="361" rx="8.4" ry="5.2" transform="rotate(-50 353.5 361)" fill="none" stroke="#b4b4b4" stroke-width="0.65"/>
<ellipse cx="354.5" cy="360.1" rx="3.4" ry="2.0" transform="rotate(-35 354.5 360.1)" fill="none" stroke="#f4f4f4" stroke-width="0.85"/>
<ellipse cx="387.7" cy="358.2" rx="15.4" ry="4.8" transform="rotate(-1 387.7 358.2)" fill="none" stroke="#c8c8c8" stroke-width="0.65"/>
<ellipse cx="390.8" cy="358.2" rx="9.8" ry="2.4" transform="rotate(-1 390.8 358.2)" fill="none" stroke="#f0f0f0" stroke-width="0.8"/>
<ellipse cx="376" cy="358.8" rx="2.0" ry="1.1" transform="rotate(0 376 358.8)" fill="none" stroke="#f2f2f2" stroke-width="0.88"/>
</g>
</g></g>
<rect x="345.4" y="312.3" width="74.0" height="74.0" fill="none" stroke="#222" stroke-width="0.95"/>
<line x1="364.4" y1="384.7" x2="364.4" y2="386.3" stroke="#333" stroke-width="0.6" stroke-linecap="butt"/>
<line x1="345.4" y1="333.0" x2="347.0" y2="333.0" stroke="#333" stroke-width="0.6" stroke-linecap="butt"/>
<line x1="383.3" y1="384.7" x2="383.3" y2="386.3" stroke="#333" stroke-width="0.6" stroke-linecap="butt"/>
<line x1="345.4" y1="354.7" x2="347.0" y2="354.7" stroke="#333" stroke-width="0.6" stroke-linecap="butt"/>
<line x1="402.3" y1="384.7" x2="402.3" y2="386.3" stroke="#333" stroke-width="0.6" stroke-linecap="butt"/>
<line x1="345.4" y1="376.5" x2="347.0" y2="376.5" stroke="#333" stroke-width="0.6" stroke-linecap="butt"/>
<path d="M350.0 385.4V386.3M345.4 316.9h0.9M354.6 385.4V386.3M345.4 321.6h0.9M359.3 385.4V386.3M345.4 326.2h0.9M363.9 385.4V386.3M345.4 330.8h0.9M368.5 385.4V386.3M345.4 335.4h0.9M373.1 385.4V386.3M345.4 340.1h0.9M377.8 385.4V386.3M345.4 344.7h0.9M382.4 385.4V386.3M345.4 349.3h0.9M387.0 385.4V386.3M345.4 353.9h0.9M391.6 385.4V386.3M345.4 358.6h0.9M396.3 385.4V386.3M345.4 363.2h0.9M400.9 385.4V386.3M345.4 367.8h0.9M405.5 385.4V386.3M345.4 372.4h0.9M410.1 385.4V386.3M345.4 377.1h0.9M414.8 385.4V386.3M345.4 381.7h0.9" stroke="#555" stroke-width="0.4" fill="none"/>
<rect x="360.4" y="341.3" width="58.0" height="28.1" fill="none" stroke="#1a1a1a" stroke-width="0.8"/>
<text x="378.0" y="326.6" font-size="8.9" text-anchor="start">40.2%</text>
<text x="378.0" y="336.0" font-size="8.9" text-anchor="start">125</text>
<clipPath id="cp6"><rect x="425.8" y="312.3" width="73.80" height="74.00"/></clipPath>
<g clip-path="url(#cp6)">
<g filter="url(#bc)">
<path d="M422.00 353.40C422.67 350.48 424.28 353.48 426.00 353.20C427.72 352.92 429.97 352.17 432.30 351.70C434.63 351.23 438.05 350.52 440.00 350.40C441.95 350.28 442.93 350.47 444.00 351.00C445.07 351.53 445.23 353.33 446.40 353.60C447.57 353.87 449.07 352.87 451.00 352.60C452.93 352.33 455.35 352.23 458.00 352.00C460.65 351.77 463.97 351.50 466.90 351.20C469.83 350.90 473.17 350.20 475.60 350.20C478.03 350.20 480.00 350.40 481.50 351.20C483.00 352.00 484.25 353.53 484.60 355.00C484.95 356.47 484.37 358.67 483.60 360.00C482.83 361.33 481.77 362.37 480.00 363.00C478.23 363.63 475.83 363.63 473.00 363.80C470.17 363.97 466.17 363.90 463.00 364.00C459.83 364.10 456.50 364.30 454.00 364.40C451.50 364.50 449.75 364.30 448.00 364.60C446.25 364.90 445.17 365.47 443.50 366.20C441.83 366.93 440.08 368.27 438.00 369.00C435.92 369.73 433.00 370.30 431.00 370.60C429.00 370.90 427.50 370.78 426.00 370.80C424.50 370.82 422.67 373.60 422.00 370.70C421.33 367.80 421.33 356.32 422.00 353.40Z" fill="#606060" stroke="#0a0a0a" stroke-width="1.3" stroke-linejoin="round"/>
<g clip-path="url(#cp6b)">
<clipPath id="cp6b"><path d="M422.00 353.40C422.67 350.48 424.28 353.48 426.00 353.20C427.72 352.92 429.97 352.17 432.30 351.70C434.63 351.23 438.05 350.52 440.00 350.40C441.95 350.28 442.93 350.47 444.00 351.00C445.07 351.53 445.23 353.33 446.40 353.60C447.57 353.87 449.07 352.87 451.00 352.60C452.93 352.33 455.35 352.23 458.00 352.00C460.65 351.77 463.97 351.50 466.90 351.20C469.83 350.90 473.17 350.20 475.60 350.20C478.03 350.20 480.00 350.40 481.50 351.20C483.00 352.00 484.25 353.53 484.60 355.00C484.95 356.47 484.37 358.67 483.60 360.00C482.83 361.33 481.77 362.37 480.00 363.00C478.23 363.63 475.83 363.63 473.00 363.80C470.17 363.97 466.17 363.90 463.00 364.00C459.83 364.10 456.50 364.30 454.00 364.40C451.50 364.50 449.75 364.30 448.00 364.60C446.25 364.90 445.17 365.47 443.50 366.20C441.83 366.93 440.08 368.27 438.00 369.00C435.92 369.73 433.00 370.30 431.00 370.60C429.00 370.90 427.50 370.78 426.00 370.80C424.50 370.82 422.67 373.60 422.00 370.70C421.33 367.80 421.33 356.32 422.00 353.40Z"/></clipPath>
<g filter="url(#bcore)">
<ellipse cx="433.6" cy="360.8" rx="10" ry="6" transform="rotate(-45 433.6 360.8)" fill="#141414" stroke="none" stroke-width="0.7"/>
<ellipse cx="454.4" cy="358.4" rx="5.2" ry="3.4" transform="rotate(0 454.4 358.4)" fill="#1a1a1a" stroke="none" stroke-width="0.7"/>
<ellipse cx="470" cy="358.3" rx="11.5" ry="4.2" transform="rotate(-2 470 358.3)" fill="#151515" stroke="none" stroke-width="0.7"/>
<ellipse cx="427.6" cy="366.5" rx="2.2" ry="4.6" transform="rotate(15 427.6 366.5)" fill="#222" stroke="none" stroke-width="0.7"/>
</g>
<ellipse cx="432.6" cy="361.6" rx="8.6" ry="5.6" transform="rotate(-50 432.6 361.6)" fill="none" stroke="#b4b4b4" stroke-width="0.65"/>
<ellipse cx="433.8" cy="360.6" rx="3.1" ry="2.1" transform="rotate(-40 433.8 360.6)" fill="none" stroke="#f4f4f4" stroke-width="0.85"/>
<ellipse cx="454.2" cy="358.5" rx="2.6" ry="1.8" transform="rotate(0 454.2 358.5)" fill="none" stroke="#f2f2f2" stroke-width="0.94"/>
<ellipse cx="454.2" cy="358.5" rx="0.9" ry="0.5" transform="rotate(0 454.2 358.5)" fill="none" stroke="#999" stroke-width="0.59"/>
<ellipse cx="469.8" cy="358.4" rx="8.3" ry="3.2" transform="rotate(-4 469.8 358.4)" fill="none" stroke="#f4f4f4" stroke-width="0.85"/>
<ellipse cx="469.8" cy="358.4" rx="5" ry="1.4" transform="rotate(-4 469.8 358.4)" fill="none" stroke="#777" stroke-width="0.59"/>
<ellipse cx="463" cy="358.4" rx="18" ry="5.3" transform="rotate(-2 463 358.4)" fill="none" stroke="#9a9a9a" stroke-width="0.59"/>
</g>
</g></g>
<rect x="425.8" y="312.3" width="73.8" height="74.0" fill="none" stroke="#222" stroke-width="0.95"/>
<line x1="444.7" y1="384.7" x2="444.7" y2="386.3" stroke="#333" stroke-width="0.6" stroke-linecap="butt"/>
<line x1="425.8" y1="333.0" x2="427.40000000000003" y2="333.0" stroke="#333" stroke-width="0.6" stroke-linecap="butt"/>
<line x1="463.6" y1="384.7" x2="463.6" y2="386.3" stroke="#333" stroke-width="0.6" stroke-linecap="butt"/>
<line x1="425.8" y1="354.7" x2="427.40000000000003" y2="354.7" stroke="#333" stroke-width="0.6" stroke-linecap="butt"/>
<line x1="482.6" y1="384.7" x2="482.6" y2="386.3" stroke="#333" stroke-width="0.6" stroke-linecap="butt"/>
<line x1="425.8" y1="376.5" x2="427.40000000000003" y2="376.5" stroke="#333" stroke-width="0.6" stroke-linecap="butt"/>
<path d="M430.4 385.4V386.3M425.8 316.9h0.9M435.0 385.4V386.3M425.8 321.6h0.9M439.6 385.4V386.3M425.8 326.2h0.9M444.2 385.4V386.3M425.8 330.8h0.9M448.9 385.4V386.3M425.8 335.4h0.9M453.5 385.4V386.3M425.8 340.1h0.9M458.1 385.4V386.3M425.8 344.7h0.9M462.7 385.4V386.3M425.8 349.3h0.9M467.3 385.4V386.3M425.8 353.9h0.9M471.9 385.4V386.3M425.8 358.6h0.9M476.5 385.4V386.3M425.8 363.2h0.9M481.2 385.4V386.3M425.8 367.8h0.9M485.8 385.4V386.3M425.8 372.4h0.9M490.4 385.4V386.3M425.8 377.1h0.9M495.0 385.4V386.3M425.8 381.7h0.9" stroke="#555" stroke-width="0.4" fill="none"/>
<rect x="442.3" y="341.3" width="56.6" height="28.1" fill="none" stroke="#1a1a1a" stroke-width="0.8"/>
<text x="458.5" y="326.1" font-size="8.9" text-anchor="start">34.6%</text>
<text x="458.5" y="334.4" font-size="8.9" text-anchor="start">99.6</text>
<path d="M256.9 320.8V394.2Q256.9 395.5 258.2 395.5H363.6" fill="none" stroke="#111" stroke-width="1.2"/>
<line x1="256.9" y1="299" x2="256.9" y2="238" stroke="#111" stroke-width="1.2" stroke-linecap="butt"/>
<path d="M256.9 232L259.7 239.4L254.1 239.4Z" fill="#111"/>
<line x1="404.2" y1="395.5" x2="492" y2="395.5" stroke="#111" stroke-width="1.2" stroke-linecap="butt"/>
<path d="M500 395.5L490.4 398.3L490.4 392.7Z" fill="#111"/>
<text x="259" y="310" font-size="10" font-weight="bold" stroke="#111" stroke-width="0.3" text-anchor="middle" transform="rotate(-90 259 310)">SSC</text>
<text x="364.6" y="398.8" font-size="10" font-weight="bold" stroke="#111" stroke-width="0.22">IFN<tspan font-size="9">&#947;</tspan>-Pe</text>
<text x="509.7" y="272.2" font-size="9.6" text-anchor="middle" transform="rotate(-90 509.7 272.2)">CD4 / CD3+CD28</text>
<text x="519" y="274" font-size="9.4" text-anchor="middle" transform="rotate(-90 519 274)">beads</text>
<text x="510" y="350.3" font-size="9.8" text-anchor="middle" transform="rotate(-90 510 350.3)">CD4 / DCsAg</text>
</g>
<g id="panelF">
<text x="2" y="431.2" font-size="16" text-anchor="start">F</text>
<line x1="38.7" y1="441.85" x2="38.7" y2="579.65" stroke="#222" stroke-width="1.3" stroke-linecap="butt"/>
<line x1="35.2" y1="579.0" x2="38.7" y2="579.0" stroke="#222" stroke-width="1.1700000000000002" stroke-linecap="butt"/>
<text x="34.0" y="582.89" font-size="8.3" font-weight="bold" stroke="#111" stroke-width="0.22" text-anchor="end">0</text>
<line x1="35.2" y1="544.9" x2="38.7" y2="544.9" stroke="#222" stroke-width="1.1700000000000002" stroke-linecap="butt"/>
<text x="34.0" y="548.24" font-size="8.3" font-weight="bold" stroke="#111" stroke-width="0.22" text-anchor="end">2500</text>
<line x1="35.2" y1="510.8" x2="38.7" y2="510.8" stroke="#222" stroke-width="1.1700000000000002" stroke-linecap="butt"/>
<text x="34.0" y="514.14" font-size="8.3" font-weight="bold" stroke="#111" stroke-width="0.22" text-anchor="end">5000</text>
<line x1="35.2" y1="476.7" x2="38.7" y2="476.7" stroke="#222" stroke-width="1.1700000000000002" stroke-linecap="butt"/>
<text x="34.0" y="480.04" font-size="8.3" font-weight="bold" stroke="#111" stroke-width="0.22" text-anchor="end">7500</text>
<line x1="35.2" y1="442.6" x2="38.7" y2="442.6" stroke="#222" stroke-width="1.1700000000000002" stroke-linecap="butt"/>
<text x="34.0" y="445.94" font-size="8.3" font-weight="bold" stroke="#111" stroke-width="0.22" text-anchor="end">10000</text>
<line x1="38" y1="579.0" x2="244.7" y2="579.0" stroke="#222" stroke-width="1.3" stroke-linecap="butt"/>
<line x1="56.0" y1="579.0" x2="56.0" y2="582.0" stroke="#222" stroke-width="1.2349999999999999" stroke-linecap="butt"/>
<line x1="90.08" y1="579.0" x2="90.08" y2="582.0" stroke="#222" stroke-width="1.2349999999999999" stroke-linecap="butt"/>
<line x1="124.16" y1="579.0" x2="124.16" y2="582.0" stroke="#222" stroke-width="1.2349999999999999" stroke-linecap="butt"/>
<line x1="158.24" y1="579.0" x2="158.24" y2="582.0" stroke="#222" stroke-width="1.2349999999999999" stroke-linecap="butt"/>
<line x1="192.32" y1="579.0" x2="192.32" y2="582.0" stroke="#222" stroke-width="1.2349999999999999" stroke-linecap="butt"/>
<line x1="226.39999999999998" y1="579.0" x2="226.39999999999998" y2="582.0" stroke="#222" stroke-width="1.2349999999999999" stroke-linecap="butt"/>
<rect x="44.5" y="519.3" width="23" height="59.7" fill="#fff" stroke="#141414" stroke-width="1.1"/>
<rect x="78.58" y="544.3" width="23" height="34.7" fill="#fff" stroke="#141414" stroke-width="1.1"/>
<rect x="112.66" y="550.9" width="23" height="28.1" fill="#fff" stroke="#141414" stroke-width="1.1"/>
<rect x="146.74" y="487.0" width="23" height="92.0" fill="#fff" stroke="#141414" stroke-width="1.1"/>
<rect x="180.82" y="520.0" width="23" height="59.0" fill="#fff" stroke="#141414" stroke-width="1.1"/>
<rect x="214.9" y="540.9" width="23" height="38.1" fill="#fff" stroke="#141414" stroke-width="1.1"/>
<rect x="54.05" y="480.25" width="3.50" height="3.50" fill="#111" stroke="none"/>
<path d="M53.85 493.05L57.75 493.05L55.80 489.55Z" fill="#111" stroke="none"/>
<circle cx="55.8" cy="510.8" r="1.52" fill="#fff" stroke="#111" stroke-width="0.95" stroke-linejoin="miter"/>
<rect x="54.12" y="514.12" width="3.35" height="3.35" fill="#fff" stroke="#111" stroke-width="0.95" stroke-linejoin="miter"/>
<path d="M53.93 540.72L57.67 540.72L55.80 537.30Z" fill="#fff" stroke="#111" stroke-width="0.95" stroke-linejoin="miter"/>
<path d="M53.85 544.30L55.80 542.35L57.75 544.30L55.80 546.25Z" fill="#111" stroke="none"/>
<circle cx="55.8" cy="556.5" r="1.70" fill="#111" stroke="none"/>
<rect x="88.13" y="514.85" width="3.50" height="3.50" fill="#111" stroke="none"/>
<path d="M87.93 521.35L91.83 521.35L89.88 517.85Z" fill="#111" stroke="none"/>
<rect x="88.20" y="539.12" width="3.35" height="3.35" fill="#fff" stroke="#111" stroke-width="0.95" stroke-linejoin="miter"/>
<circle cx="89.88" cy="547.4" r="1.52" fill="#fff" stroke="#111" stroke-width="0.95" stroke-linejoin="miter"/>
<path d="M87.93 552.60L89.88 550.65L91.83 552.60L89.88 554.55Z" fill="#111" stroke="none"/>
<path d="M88.01 567.22L91.75 567.22L89.88 563.80Z" fill="#fff" stroke="#111" stroke-width="0.95" stroke-linejoin="miter"/>
<circle cx="89.88" cy="569.5" r="1.70" fill="#111" stroke="none"/>
<rect x="122.21" y="512.55" width="3.50" height="3.50" fill="#111" stroke="none"/>
<path d="M122.01 537.25L125.91 537.25L123.96 533.75Z" fill="#111" stroke="none"/>
<rect x="122.28" y="542.23" width="3.35" height="3.35" fill="#fff" stroke="#111" stroke-width="0.95" stroke-linejoin="miter"/>
<circle cx="123.96" cy="556.4" r="1.52" fill="#fff" stroke="#111" stroke-width="0.95" stroke-linejoin="miter"/>
<path d="M122.01 562.80L123.96 560.85L125.91 562.80L123.96 564.75Z" fill="#111" stroke="none"/>
<path d="M122.09 569.22L125.83 569.22L123.96 565.80Z" fill="#fff" stroke="#111" stroke-width="0.95" stroke-linejoin="miter"/>
<circle cx="123.96" cy="576.0" r="1.70" fill="#111" stroke="none"/>
<path d="M156.09 447.55L159.99 447.55L158.04 444.05Z" fill="#111" stroke="none"/>
<rect x="156.37" y="477.12" width="3.35" height="3.35" fill="#fff" stroke="#111" stroke-width="0.95" stroke-linejoin="miter"/>
<rect x="156.29" y="482.85" width="3.50" height="3.50" fill="#111" stroke="none"/>
<path d="M156.09 495.40L158.04 493.45L159.99 495.40L158.04 497.35Z" fill="#111" stroke="none"/>
<path d="M156.17 520.42L159.91 520.42L158.04 517.00Z" fill="#fff" stroke="#111" stroke-width="0.95" stroke-linejoin="miter"/>
<circle cx="158.04000000000002" cy="545.0" r="1.70" fill="#111" stroke="none"/>
<path d="M190.17 473.35L194.07 473.35L192.12 469.85Z" fill="#111" stroke="none"/>
<rect x="190.44" y="496.02" width="3.35" height="3.35" fill="#fff" stroke="#111" stroke-width="0.95" stroke-linejoin="miter"/>
<circle cx="192.12" cy="513.4" r="1.52" fill="#fff" stroke="#111" stroke-width="0.95" stroke-linejoin="miter"/>
<path d="M190.17 517.30L192.12 515.35L194.07 517.30L192.12 519.25Z" fill="#111" stroke="none"/>
<rect x="190.37" y="528.75" width="3.50" height="3.50" fill="#111" stroke="none"/>
<path d="M190.25 547.62L193.99 547.62L192.12 544.20Z" fill="#fff" stroke="#111" stroke-width="0.95" stroke-linejoin="miter"/>
<circle cx="192.12" cy="565.3" r="1.70" fill="#111" stroke="none"/>
<path d="M224.25 489.75L228.15 489.75L226.20 486.25Z" fill="#111" stroke="none"/>
<rect x="224.45" y="533.55" width="3.50" height="3.50" fill="#111" stroke="none"/>
<circle cx="226.2" cy="538.2" r="1.52" fill="#fff" stroke="#111" stroke-width="0.95" stroke-linejoin="miter"/>
<rect x="224.52" y="542.23" width="3.35" height="3.35" fill="#fff" stroke="#111" stroke-width="0.95" stroke-linejoin="miter"/>
<path d="M224.33 553.82L228.07 553.82L226.20 550.40Z" fill="#fff" stroke="#111" stroke-width="0.95" stroke-linejoin="miter"/>
<path d="M224.25 558.40L226.20 556.45L228.15 558.40L226.20 560.35Z" fill="#111" stroke="none"/>
<circle cx="226.2" cy="571.5" r="1.70" fill="#111" stroke="none"/>
<text x="55.9" y="592.8" font-size="10" font-weight="bold" stroke="#111" stroke-width="0.22" text-anchor="middle">shCtl</text>
<text x="90.0" y="592.8" font-size="10" font-weight="bold" stroke="#111" stroke-width="0.22" text-anchor="middle">sh1</text>
<text x="123.6" y="592.8" font-size="10" font-weight="bold" stroke="#111" stroke-width="0.22" text-anchor="middle">sh3</text>
<text x="158.5" y="592.8" font-size="10" font-weight="bold" stroke="#111" stroke-width="0.22" text-anchor="middle">shCtl</text>
<text x="191.9" y="592.8" font-size="10" font-weight="bold" stroke="#111" stroke-width="0.22" text-anchor="middle">sh1</text>
<text x="226.2" y="592.8" font-size="10" font-weight="bold" stroke="#111" stroke-width="0.22" text-anchor="middle">sh3</text>
<line x1="45" y1="599.4" x2="134.8" y2="599.4" stroke="#222" stroke-width="1" stroke-linecap="butt"/>
<line x1="146.2" y1="599.4" x2="236" y2="599.4" stroke="#222" stroke-width="1" stroke-linecap="butt"/>
<text x="90.2" y="610.1" font-size="10.1" text-anchor="middle">CD4 + CD3/CD28</text>
<text x="95" y="619.5" font-size="9.8" text-anchor="middle">beads</text>
<text x="190.8" y="610.3" font-size="10.1" text-anchor="middle">CD4 + DCsAg</text>
<line x1="55" y1="428.8" x2="121.7" y2="428.8" stroke="#333" stroke-width="1.2" stroke-linecap="butt"/>
<line x1="55" y1="440.3" x2="88.8" y2="440.3" stroke="#333" stroke-width="1.2" stroke-linecap="butt"/>
<line x1="158" y1="428.8" x2="225.8" y2="428.8" stroke="#333" stroke-width="1.2" stroke-linecap="butt"/>
<line x1="158" y1="440.3" x2="191.6" y2="440.3" stroke="#333" stroke-width="1.2" stroke-linecap="butt"/>
<text x="64.5" y="423.6" font-size="6.4" font-weight="bold" stroke="#111" stroke-width="0" text-anchor="start">***</text>
<text x="76.3" y="425.6" font-size="8.8" text-anchor="start">p=0.0003</text>
<text x="50" y="435.1" font-size="6.4" font-weight="bold" stroke="#111" stroke-width="0" text-anchor="start">***</text>
<text x="61.3" y="437.1" font-size="8.8" text-anchor="start">p=0.0008</text>
<text x="167.9" y="423.6" font-size="6.4" font-weight="bold" stroke="#111" stroke-width="0" text-anchor="start">***</text>
<text x="179.5" y="425.6" font-size="8.8" text-anchor="start">p=0.0009</text>
<text x="153.4" y="435.1" font-size="6.4" font-weight="bold" stroke="#111" stroke-width="0" text-anchor="start">**</text>
<text x="161.2" y="437.1" font-size="8.8" text-anchor="start">p=0.0040</text>
<text x="11" y="510" font-size="10.3" font-weight="bold" stroke="#111" stroke-width="0.3" text-anchor="middle" transform="rotate(-90 11 510)">MIP1<tspan font-size="8" font-weight="normal" stroke="none">&#945;</tspan><tspan dx="1.4"> (pg/mL)</tspan></text>
</g>
<g id="panelG">
<text x="251.5" y="431.6" font-size="16" text-anchor="start">G</text>
<line x1="297" y1="441.55" x2="297" y2="579.15" stroke="#222" stroke-width="1.3" stroke-linecap="butt"/>
<line x1="293.5" y1="578.5" x2="297" y2="578.5" stroke="#222" stroke-width="1.1700000000000002" stroke-linecap="butt"/>
<text x="292.4" y="582.39" font-size="8.3" font-weight="bold" stroke="#111" stroke-width="0.22" text-anchor="end">0</text>
<line x1="293.5" y1="544.45" x2="297" y2="544.45" stroke="#222" stroke-width="1.1700000000000002" stroke-linecap="butt"/>
<text x="292.4" y="547.79" font-size="8.3" font-weight="bold" stroke="#111" stroke-width="0.22" text-anchor="end">5000</text>
<line x1="293.5" y1="510.4" x2="297" y2="510.4" stroke="#222" stroke-width="1.1700000000000002" stroke-linecap="butt"/>
<text x="292.4" y="513.74" font-size="8.3" font-weight="bold" stroke="#111" stroke-width="0.22" text-anchor="end">10000</text>
<line x1="293.5" y1="476.35" x2="297" y2="476.35" stroke="#222" stroke-width="1.1700000000000002" stroke-linecap="butt"/>
<text x="292.4" y="479.69" font-size="8.3" font-weight="bold" stroke="#111" stroke-width="0.22" text-anchor="end">15000</text>
<line x1="293.5" y1="442.3" x2="297" y2="442.3" stroke="#222" stroke-width="1.1700000000000002" stroke-linecap="butt"/>
<text x="292.4" y="445.64" font-size="8.3" font-weight="bold" stroke="#111" stroke-width="0.22" text-anchor="end">20000</text>
<line x1="296.3" y1="578.5" x2="502" y2="578.5" stroke="#222" stroke-width="1.3" stroke-linecap="butt"/>
<line x1="314.8" y1="578.5" x2="314.8" y2="581.5" stroke="#222" stroke-width="1.2349999999999999" stroke-linecap="butt"/>
<line x1="348.85" y1="578.5" x2="348.85" y2="581.5" stroke="#222" stroke-width="1.2349999999999999" stroke-linecap="butt"/>
<line x1="382.9" y1="578.5" x2="382.9" y2="581.5" stroke="#222" stroke-width="1.2349999999999999" stroke-linecap="butt"/>
<line x1="416.95" y1="578.5" x2="416.95" y2="581.5" stroke="#222" stroke-width="1.2349999999999999" stroke-linecap="butt"/>
<line x1="451.0" y1="578.5" x2="451.0" y2="581.5" stroke="#222" stroke-width="1.2349999999999999" stroke-linecap="butt"/>
<line x1="485.05" y1="578.5" x2="485.05" y2="581.5" stroke="#222" stroke-width="1.2349999999999999" stroke-linecap="butt"/>
<rect x="303.3" y="553.6" width="23" height="24.9" fill="#fff" stroke="#141414" stroke-width="1.1"/>
<rect x="337.35" y="571.0" width="23" height="7.5" fill="#fff" stroke="#141414" stroke-width="1.1"/>
<rect x="371.4" y="568.5" width="23" height="10.0" fill="#fff" stroke="#141414" stroke-width="1.1"/>
<rect x="405.45" y="476.6" width="23" height="101.9" fill="#fff" stroke="#141414" stroke-width="1.1"/>
<rect x="439.5" y="518.5" width="23" height="60.0" fill="#fff" stroke="#141414" stroke-width="1.1"/>
<rect x="473.55" y="543.5" width="23" height="35.0" fill="#fff" stroke="#141414" stroke-width="1.1"/>
<path d="M312.85 506.75L316.75 506.75L314.80 503.25Z" fill="#111" stroke="none"/>
<circle cx="314.8" cy="540.8" r="1.52" fill="#fff" stroke="#111" stroke-width="0.95" stroke-linejoin="miter"/>
<path d="M312.85 549.80L314.80 547.85L316.75 549.80L314.80 551.75Z" fill="#111" stroke="none"/>
<path d="M312.85 565.20L314.80 563.25L316.75 565.20L314.80 567.15Z" fill="#111" stroke="none"/>
<path d="M312.85 568.35L316.75 568.35L314.80 564.85Z" fill="#111" stroke="none"/>
<circle cx="314.8" cy="569.2" r="1.52" fill="#fff" stroke="#111" stroke-width="0.95" stroke-linejoin="miter"/>
<rect x="313.12" y="569.73" width="3.35" height="3.35" fill="#fff" stroke="#111" stroke-width="0.95" stroke-linejoin="miter"/>
<rect x="313.05" y="571.85" width="3.50" height="3.50" fill="#111" stroke="none"/>
<circle cx="314.8" cy="575.3" r="1.70" fill="#111" stroke="none"/>
<circle cx="348.85" cy="560.3" r="1.52" fill="#fff" stroke="#111" stroke-width="0.95" stroke-linejoin="miter"/>
<path d="M346.90 568.60L348.85 566.65L350.80 568.60L348.85 570.55Z" fill="#111" stroke="none"/>
<path d="M346.90 572.35L350.80 572.35L348.85 568.85Z" fill="#111" stroke="none"/>
<rect x="347.10" y="571.25" width="3.50" height="3.50" fill="#111" stroke="none"/>
<circle cx="348.85" cy="574.6" r="1.70" fill="#111" stroke="none"/>
<path d="M346.98 577.52L350.72 577.52L348.85 574.10Z" fill="#fff" stroke="#111" stroke-width="0.95" stroke-linejoin="miter"/>
<circle cx="382.9" cy="551.5" r="1.52" fill="#fff" stroke="#111" stroke-width="0.95" stroke-linejoin="miter"/>
<path d="M380.95 564.00L382.90 562.05L384.85 564.00L382.90 565.95Z" fill="#111" stroke="none"/>
<path d="M380.95 572.75L384.85 572.75L382.90 569.25Z" fill="#111" stroke="none"/>
<rect x="381.22" y="570.93" width="3.35" height="3.35" fill="#fff" stroke="#111" stroke-width="0.95" stroke-linejoin="miter"/>
<circle cx="382.9" cy="574.0" r="1.70" fill="#111" stroke="none"/>
<rect x="381.15" y="573.85" width="3.50" height="3.50" fill="#111" stroke="none"/>
<path d="M415.00 455.50L416.95 453.55L418.90 455.50L416.95 457.45Z" fill="#111" stroke="none"/>
<circle cx="416.95" cy="467.5" r="1.52" fill="#fff" stroke="#111" stroke-width="0.95" stroke-linejoin="miter"/>
<circle cx="416.95" cy="493.6" r="1.70" fill="#111" stroke="none"/>
<path d="M415.00 498.45L418.90 498.45L416.95 494.95Z" fill="#111" stroke="none"/>
<rect x="415.27" y="525.83" width="3.35" height="3.35" fill="#fff" stroke="#111" stroke-width="0.95" stroke-linejoin="miter"/>
<rect x="415.20" y="556.25" width="3.50" height="3.50" fill="#111" stroke="none"/>
<path d="M449.05 479.75L452.95 479.75L451.00 476.25Z" fill="#111" stroke="none"/>
<path d="M449.13 489.12L452.87 489.12L451.00 485.70Z" fill="#fff" stroke="#111" stroke-width="0.95" stroke-linejoin="miter"/>
<path d="M449.05 498.00L451.00 496.05L452.95 498.00L451.00 499.95Z" fill="#111" stroke="none"/>
<circle cx="451.0" cy="502.0" r="1.52" fill="#fff" stroke="#111" stroke-width="0.95" stroke-linejoin="miter"/>
<circle cx="451.0" cy="542.0" r="1.70" fill="#111" stroke="none"/>
<rect x="449.32" y="546.33" width="3.35" height="3.35" fill="#fff" stroke="#111" stroke-width="0.95" stroke-linejoin="miter"/>
<rect x="449.25" y="571.55" width="3.50" height="3.50" fill="#111" stroke="none"/>
<path d="M483.18 502.93L486.92 502.93L485.05 499.50Z" fill="#fff" stroke="#111" stroke-width="0.95" stroke-linejoin="miter"/>
<circle cx="485.05" cy="523.5" r="1.52" fill="#fff" stroke="#111" stroke-width="0.95" stroke-linejoin="miter"/>
<path d="M483.10 541.25L487.00 541.25L485.05 537.75Z" fill="#111" stroke="none"/>
<path d="M483.10 547.50L485.05 545.55L487.00 547.50L485.05 549.45Z" fill="#111" stroke="none"/>
<circle cx="485.05" cy="558.2" r="1.70" fill="#111" stroke="none"/>
<rect x="483.38" y="558.93" width="3.35" height="3.35" fill="#fff" stroke="#111" stroke-width="0.95" stroke-linejoin="miter"/>
<rect x="483.30" y="570.05" width="3.50" height="3.50" fill="#111" stroke="none"/>
<text x="314.8" y="592.7" font-size="10" font-weight="bold" stroke="#111" stroke-width="0.22" text-anchor="middle">shCtl</text>
<text x="348.4" y="592.7" font-size="10" font-weight="bold" stroke="#111" stroke-width="0.22" text-anchor="middle">sh1</text>
<text x="382.3" y="592.7" font-size="10" font-weight="bold" stroke="#111" stroke-width="0.22" text-anchor="middle">sh3</text>
<text x="416.9" y="592.7" font-size="10" font-weight="bold" stroke="#111" stroke-width="0.22" text-anchor="middle">shCtl</text>
<text x="449.7" y="592.7" font-size="10" font-weight="bold" stroke="#111" stroke-width="0.22" text-anchor="middle">sh1</text>
<text x="484.7" y="592.7" font-size="10" font-weight="bold" stroke="#111" stroke-width="0.22" text-anchor="middle">sh3</text>
<line x1="303.3" y1="599.3" x2="393.8" y2="599.3" stroke="#222" stroke-width="1" stroke-linecap="butt"/>
<line x1="404.6" y1="599.3" x2="495.4" y2="599.3" stroke="#222" stroke-width="1" stroke-linecap="butt"/>
<text x="348.5" y="609.9" font-size="10.1" text-anchor="middle">CD4 + CD3/CD28</text>
<text x="353.1" y="619.4" font-size="9.8" text-anchor="middle">beads</text>
<text x="450.8" y="610.3" font-size="10.1" text-anchor="middle">CD4 + DCsAg</text>
<line x1="313.8" y1="428" x2="381" y2="428" stroke="#333" stroke-width="1.2" stroke-linecap="butt"/>
<line x1="313.8" y1="439.3" x2="347" y2="439.3" stroke="#333" stroke-width="1.2" stroke-linecap="butt"/>
<line x1="417" y1="428" x2="484.6" y2="428" stroke="#333" stroke-width="1.2" stroke-linecap="butt"/>
<line x1="417" y1="439.3" x2="449.8" y2="439.3" stroke="#333" stroke-width="1.2" stroke-linecap="butt"/>
<text x="322" y="424.6" font-size="8.6" text-anchor="start">NS p=0.1045</text>
<text x="308" y="436.3" font-size="8.6" text-anchor="start">NS p=0.0858</text>
<text x="428.3" y="422.8" font-size="6.4" font-weight="bold" stroke="#111" stroke-width="0" text-anchor="start">*</text>
<text x="433.2" y="424.8" font-size="8.8" text-anchor="start">p=0.0397</text>
<text x="409.8" y="436.3" font-size="8.6" text-anchor="start">NS p=0.0604</text>
<text x="266" y="507" font-size="10.3" font-weight="bold" stroke="#111" stroke-width="0.3" text-anchor="middle" transform="rotate(-90 266 507)">TNF<tspan font-size="8" font-weight="normal" stroke="none">&#945;</tspan><tspan dx="1.4"> (pg/mL)</tspan></text>
</g>
</svg></body></html>
